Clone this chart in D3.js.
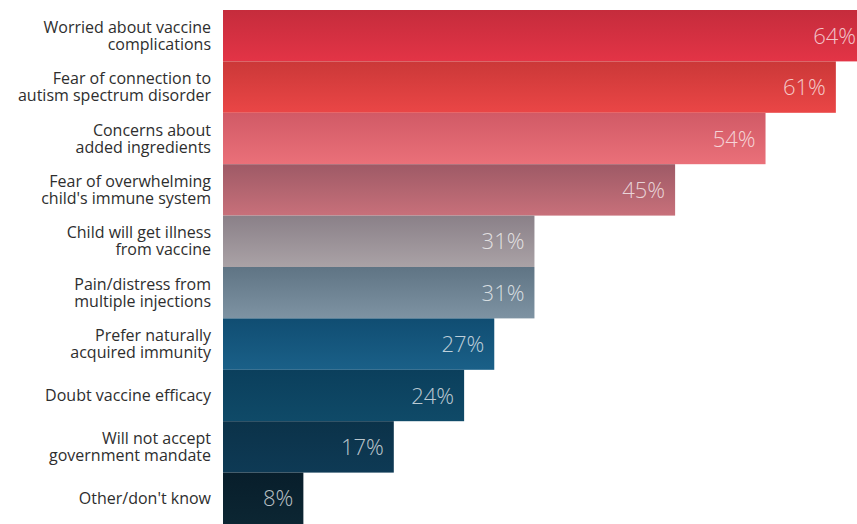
<!DOCTYPE html>
<html>
<head>
<meta charset="utf-8">
<script src="https://cdn.jsdelivr.net/npm/d3@7"></script>
<style>
  body { margin: 0; background: #fff; }
  svg { display: block; }
</style>
</head>
<body>
<div id="chart"></div>
<script>
// reasons parents give for hesitancy, top to bottom
const reasons = [
  ["Worried about vaccine", "complications"],
  ["Fear of connection to", "autism spectrum disorder"],
  ["Concerns about", "added ingredients"],
  ["Fear of overwhelming", "child's immune system"],
  ["Child will get illness", "from vaccine"],
  ["Pain/distress from", "multiple injections"],
  ["Prefer naturally", "acquired immunity"],
  ["Doubt vaccine efficacy"],
  ["Will not accept", "government mandate"],
  ["Other/don't know"]
];
const shares = [64, 61, 54, 45, 31, 31, 27, 24, 17, 8];

// top / bottom colour of each bar's gradient
const topColors = ["#c52c3c", "#cb3838", "#d15a66", "#9e5a66", "#8a8088", "#5f7484", "#104d72", "#0b3f5c", "#0b3249", "#081e2b"];
const bottomColors = ["#e33446", "#ea4646", "#ea7079", "#c8707a", "#aaa2a6", "#7e93a3", "#1a6088", "#0f4a68", "#0e3a55", "#0c2633"];

const width = 857, height = 524;

const svg = d3.select("#chart").append("svg")
  .attr("width", width)
  .attr("height", height);

const ids = d3.range(shares.length);

const x = d3.scaleLinear()
  .domain([0, 64])
  .range([223, 866]);

const y = d3.scaleBand()
  .domain(ids)
  .range([10, 524])
  .padding(0);

// one vertical gradient per bar
const defs = svg.append("defs");
ids.forEach(i => {
  const g = defs.append("linearGradient")
    .attr("id", "grad" + i)
    .attr("x1", 0).attr("y1", 0)
    .attr("x2", 0).attr("y2", 1);
  g.append("stop").attr("offset", "0%").attr("stop-color", topColors[i]);
  g.append("stop").attr("offset", "100%").attr("stop-color", bottomColors[i]);
});

svg.selectAll("rect.bar")
  .data(ids)
  .enter()
  .append("rect")
    .attr("class", "bar")
    .attr("x", x(0))
    .attr("y", i => y(i))
    .attr("width", i => x(shares[i]) - x(0))
    .attr("height", y.bandwidth())
    .attr("fill", i => "url(#grad" + i + ")");

// category labels, right aligned left of the bars
const labels = svg.selectAll("text.cat")
  .data(ids)
  .enter()
  .append("text")
    .attr("class", "cat")
    .attr("text-anchor", "end")
    .attr("font-family", "'Open Sans', sans-serif")
    .attr("font-size", "16px")
    .attr("fill", "#2e2e2e");

labels.each(function(i) {
  const lines = reasons[i];
  const cy = y(i) + y.bandwidth() / 2;
  const startY = cy - (lines.length - 1) * 8.5 + 5.5;
  d3.select(this).selectAll("tspan")
    .data(lines)
    .enter()
    .append("tspan")
      .attr("x", 211)
      .attr("y", (d, k) => startY + k * 17)
      .text(d => d);
});

// percentage labels inside the bar ends
svg.selectAll("text.val")
  .data(ids)
  .enter()
  .append("text")
    .attr("class", "val")
    .attr("x", i => x(shares[i]) - 10)
    .attr("y", i => y(i) + y.bandwidth() / 2 + 8)
    .attr("text-anchor", "end")
    .attr("font-family", "'Open Sans', sans-serif")
    .attr("font-weight", 300)
    .attr("font-size", "22px")
    .attr("fill", "rgba(255,255,255,0.72)")
    .text(i => shares[i] + "%");
</script>
</body>
</html>
